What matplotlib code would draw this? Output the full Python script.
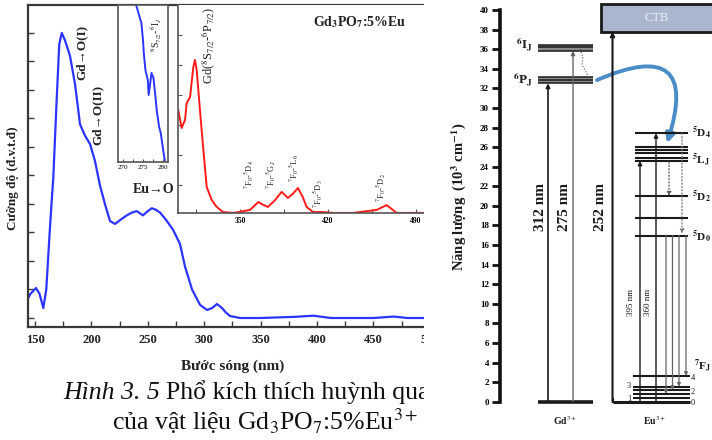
import matplotlib
matplotlib.use('Agg')
import matplotlib.pyplot as plt
from matplotlib.patches import Rectangle, FancyArrowPatch
import numpy as np

plt.rcParams['font.family'] = ['Liberation Serif', 'DejaVu Serif']
plt.rcParams['mathtext.fontset'] = 'stix'

# ---------------- data ----------------
# main excitation spectrum (blue)
blue_nm = [144, 146, 150.9, 154, 157.4, 160, 163, 164.8, 166.2, 169.2, 171.5, 173.7, 176.5,
           181, 185.5, 189.9, 194.3, 198.8, 203.2, 207.6, 212, 216.5, 220.9, 226, 231.3,
           236, 240.2, 245.7, 250, 253.5, 257, 260.8, 266, 272.3, 278.5, 283, 289.2,
           296.3, 302.5, 307, 311.3, 315.8, 319, 322.9, 331.7, 350, 380, 397, 412,
           450, 468, 480, 509]
blue_int = [0.07, 0.085, 0.105, 0.085, 0.035, 0.10, 0.30, 0.41, 0.49, 0.765, 0.96, 1.0, 0.975,
            0.92, 0.82, 0.68, 0.64, 0.61, 0.55, 0.465, 0.40, 0.34, 0.33, 0.345, 0.36,
            0.37, 0.375, 0.36, 0.375, 0.385, 0.38, 0.37, 0.345, 0.31, 0.26, 0.18, 0.10,
            0.046, 0.028, 0.035, 0.049, 0.035, 0.02, 0.007, 0.0, 0.0, 0.004, 0.008, 0.0,
            0.0, 0.005, 0.0, 0.0]
main_xticks = [150, 200, 250, 300, 350, 400, 450, 500]

# zoomed inset (blue, 270-280 nm)
inset_nm = [273.0, 273.3, 274.6, 275.0, 275.2, 275.6, 276.2, 276.4, 276.8, 277.1, 277.6,
            278.0, 278.4, 279.0, 279.4, 280.0, 280.4]
inset_int = [1.05, 1.0, 0.885, 0.777, 0.694, 0.586, 0.522, 0.427, 0.503, 0.567, 0.535,
             0.439, 0.331, 0.223, 0.185, 0.076, 0.013]
inset_xticks = [270, 275, 280]

# red inset (300-500 nm)
red_nm = [300.8, 303.5, 306.2, 307.5, 310.2, 312.8, 314.1, 315.5, 318.1, 320.8, 323.5,
          327.5, 331.4, 336.5, 345, 358, 364.6, 368, 372.3, 378, 383.2, 388.2, 392,
          396.2, 400, 403.1, 408.2, 416.1, 424.1, 440, 458.9, 466.9, 474.9, 493.4, 510]
red_int = [3.5, 2.9, 3.17, 3.73, 3.93, 4.93, 5.17, 4.83, 3.5, 2.17, 0.93,
           0.5, 0.27, 0.1, 0.07, 0.17, 0.43, 0.35, 0.27, 0.5, 0.77, 0.57, 0.7,
           0.9, 0.6, 0.27, 0.1, 0.1, 0.07, 0.07, 0.17, 0.33, 0.07, 0.07, 0.07]
red_xticks = [350, 420, 490]

# energy level diagram (10^3 cm^-1)
energy_ticks = list(range(0, 42, 2))
gd_6P = [32.52, 32.86, 33.2]
gd_6I = [35.85, 36.2, 36.43]
eu_5D4 = 27.42
eu_5L = [24.6, 24.86, 25.37, 25.7, 26.0]
eu_5D2 = 21.0
eu_5D1 = 18.8
eu_5D0 = 16.96
eu_7F = [0, 0.35, 0.79, 1.2, 1.53, 2.63]
ctb_band = (37.8, 40.6)
emission_ends = [0.79, 1.2, 1.53, 2.63]

W, H = 712, 440
fig = plt.figure(figsize=(W / 100, H / 100), dpi=100)


def rect(x0, y0, x1, y1):
    return [x0 / W, 1 - y1 / H, (x1 - x0) / W, (y1 - y0) / H]


def ftext(x, y, s, **kw):
    return fig.text(x / W, 1 - y / H, s, **kw)


SPC = '#3a3a3a'

# ---------------- main spectrum ----------------
ax = fig.add_axes(rect(28, 5, 440, 327))
ax.plot(blue_nm, blue_int, color='#2b35ff', lw=1.6)
ax.set_xlim(143.8, 509)
ax.set_ylim(-0.0316, 1.098)
ax.set_xticks(main_xticks)
ax.set_xticks(np.arange(150, 510, 25), minor=True)
ax.set_yticks(np.arange(0, 1.01, 0.1))
ax.set_yticklabels([])
ax.tick_params(which='both', direction='in', length=4, width=1, color=SPC)
ax.tick_params(axis='x', labelsize=9, pad=5)
for lab in ax.get_xticklabels():
    lab.set_fontweight('bold')
    lab.set_color('#222222')
for s in ax.spines.values():
    s.set_color(SPC)
    s.set_linewidth(1.6)
ax.spines['right'].set_visible(False)

ftext(82, 52, 'Gd→O(I)', rotation=90, ha='center', va='center', fontsize=9.5,
      fontweight='bold', color='#222222')
ftext(98, 115, 'Gd→O(II)', rotation=90, ha='center', va='center', fontsize=9.5,
      fontweight='bold', color='#222222')
ftext(154, 189, 'Eu→O', ha='center', va='center', fontsize=10, fontweight='bold',
      color='#222222')

# ---------------- red inset ----------------
axr = fig.add_axes(rect(178, 5, 440, 213))
axr.plot(red_nm, red_int, color='#ff1a1a', lw=1.4)
axr.set_xlim(300.6, 509.4)
axr.set_ylim(0.067, 7.0)
axr.set_xticks(red_xticks)
axr.set_xticks(np.arange(315, 510, 35), minor=True)
axr.set_yticks(range(1, 7))
axr.set_yticklabels([])
axr.tick_params(which='both', direction='in', length=3, width=0.8, color='#555555')
axr.tick_params(axis='x', labelsize=5.5, pad=3)
for lab in axr.get_xticklabels():
    lab.set_fontweight('bold')
for k in ('top', 'right'):
    axr.spines[k].set_visible(False)
for k in ('left', 'bottom'):
    axr.spines[k].set_color('#555555')
    axr.spines[k].set_linewidth(1.2)

ftext(360, 22, r'Gd$_\mathbf{3}$PO$_\mathbf{7}$:5%Eu', ha='center', va='center',
      fontsize=10, fontweight='bold', color='#222222')
ftext(209, 45, r'Gd($^8$S$_{7/2}$-$^6$P$_{7/2}$)', rotation=90, ha='center',
      va='center', fontsize=9, color='#222222')
small = [(249, 175, r'$^7$F$_0$-$^5$D$_4$'), (271, 175, r'$^7$F$_0$-$^5$G$_J$'),
         (294, 168, r'$^7$F$_0$-$^5$L$_6$'), (318, 194, r'$^7$F$_0$-$^5$D$_3$'),
         (381, 188, r'$^7$F$_0$-$^5$D$_2$')]
for x, y, s in small:
    ftext(x, y, s, rotation=90, ha='center', va='center', fontsize=6, color='#222222')

# ---------------- blue inset ----------------
axb = fig.add_axes(rect(118, 5, 168, 162))
axb.plot(inset_nm, inset_int, color='#2b35ff', lw=1.4)
axb.set_xlim(268.8, 281.2)
axb.set_ylim(0, 1)
axb.set_xticks(inset_xticks)
axb.set_xticks([272.5, 277.5], minor=True)
axb.set_yticks([])
axb.tick_params(which='both', direction='in', length=2.5, width=0.8, color='#555555')
axb.tick_params(axis='x', labelsize=5, pad=2)
for s in axb.spines.values():
    s.set_color('#555555')
    s.set_linewidth(1.2)
ftext(156, 35, r'$^8$S$_{7/2}$-$^6$I$_J$', rotation=90, ha='center', va='center',
      fontsize=7, color='#222222')

# y label and x label
ftext(13, 178, 'Cường độ (đ.v.t.đ)', rotation=90, ha='center', va='center',
      fontsize=9.5, fontweight='bold', color='#222222')
ftext(233, 366, 'Bước sóng (nm)', ha='center', va='center', fontsize=11,
      fontweight='bold', color='#222222')

# caption
fig.canvas.draw()
r = fig.canvas.get_renderer()
t1 = ftext(63, 399, 'Hình 3. 5 ', ha='left', va='baseline', fontsize=18.5, style='italic',
           color='#111111')
bb = t1.get_window_extent(renderer=r)
ftext(63 + bb.width, 399, 'Phổ kích thích huỳnh quang', ha='left', va='baseline',
      fontsize=18.5, color='#111111')
ftext(112, 430, r'của vật liệu Gd$_3$PO$_7$:5%Eu$^{3+}$', ha='left', va='baseline',
      fontsize=18.5, color='#111111')

# crop band between panels
fig.patches.append(Rectangle((424 / W, 0), (446 - 424) / W, 1, transform=fig.transFigure,
                             facecolor='white', edgecolor='none', zorder=100))
fig.patches.append(Rectangle((424 / W, 0), (474 - 424) / W, 1 - 372 / H,
                             transform=fig.transFigure, facecolor='white',
                             edgecolor='none', zorder=100))

# ---------------- energy level diagram ----------------
ax2 = fig.add_axes(rect(500, 0, 712, 440))
ax2.set_xlim(500, 712)
ax2.set_ylim(-3.91, 41.03)
for k in ('top', 'right', 'bottom'):
    ax2.spines[k].set_visible(False)
ax2.spines['left'].set_bounds(0, 40)
ax2.spines['left'].set_linewidth(2.6)
ax2.spines['left'].set_color('#111111')
ax2.set_xticks([])
ax2.set_yticks(energy_ticks)
ax2.tick_params(axis='y', direction='out', length=6, width=2, color='#111111',
                labelsize=6.5, pad=2)
for lab in ax2.get_yticklabels():
    lab.set_fontweight('bold')
ax2.patch.set_alpha(0)

DK = '#1a1a1a'
# Gd levels
ax2.hlines(0, 538, 593, color=DK, lw=2.6)
for band in (gd_6P, gd_6I):
    ax2.fill_between([538, 593], band[0], band[-1], color='#8a8a8a', lw=0)
    ax2.hlines(band, 538, 593, color=DK, lw=1.1)


def arrow(x, y0, y1, color=DK, lw=1.0, ls='-', ms=6):
    ax2.annotate('', xy=(x, y1), xytext=(x, y0),
                 arrowprops=dict(arrowstyle='-|>', lw=lw, color=color, ls=ls,
                                 mutation_scale=ms, shrinkA=0, shrinkB=0))


arrow(548, 0, gd_6P[0], lw=1.2)
arrow(573, 0, gd_6I[0], color='#666666', lw=1.0)
arrow(612.5, 0, ctb_band[0], lw=1.5)
ax2.plot([580, 583, 582, 586, 589], [36.0, 35.2, 34.4, 33.7, 33.05], ls=':', color='#555555',
         lw=0.8)

# CTB box
ax2.add_patch(Rectangle((601, ctb_band[0]), 140, ctb_band[1] - ctb_band[0],
                        facecolor='#a9b6cd', edgecolor=DK, lw=2))
ax2.text(657, (ctb_band[0] + ctb_band[1]) / 2, 'CTB', ha='center', va='center',
         fontsize=9, color='#eef1f7')

# Eu levels
ax2.hlines([eu_5D4] + eu_5L + [eu_5D2, eu_5D1, eu_5D0], 635, 688, color=DK, lw=1.5)
ax2.hlines(eu_7F[1:], 633, 690, color=DK, lw=1.5)
ax2.hlines(eu_7F[0], 612.5, 690, color=DK, lw=2.2)
ax2.plot([612.5, 612.5], [0, 0.3], color=DK, lw=1.5)

arrow(640, 0, eu_5L[0], lw=1.0)
arrow(656, 0, eu_5D4, lw=1.0)
arrow(669, eu_5L[0] - 0.1, eu_5D2, color='#555555', lw=0.9, ls=':')
arrow(682, eu_5D4, eu_5D0 + 0.2, color='#777777', lw=0.9, ls=':')
for x, e in zip([666, 672.5, 679, 686], emission_ends):
    arrow(x, eu_5D0, e, color='#666666', lw=0.9, ms=5)

# blue transfer arrow
ax2.add_patch(FancyArrowPatch((597, 32.85), (667, 26.4), connectionstyle='arc3,rad=-1.1',
                              arrowstyle='-|>', mutation_scale=13, color='#4a8cc8',
                              lw=2.8, shrinkA=0, shrinkB=0))

# level labels
ftext(533, 45, r'$^\mathbf{6}$I$_\mathbf{J}$', ha='right', va='center', fontsize=9.5,
      fontweight='bold', color=DK)
ftext(533, 80, r'$^\mathbf{6}$P$_\mathbf{J}$', ha='right', va='center', fontsize=9.5,
      fontweight='bold', color=DK)
for x, y, s in [(692, 133, r'$^\mathbf{5}$D$_\mathbf{4}$'), (692, 160, r'$^\mathbf{5}$L$_\mathbf{J}$'),
                (692, 197, r'$^\mathbf{5}$D$_\mathbf{2}$'), (692, 237, r'$^\mathbf{5}$D$_\mathbf{0}$'),
                (694, 366, r'$^\mathbf{7}$F$_\mathbf{J}$')]:
    ftext(x, y, s, ha='left', va='center', fontsize=8.2, fontweight='bold', color=DK)
for x, y, s, ha in [(631, 386, '3', 'right'), (631, 399, '1', 'right'),
                    (691, 378, '4', 'left'), (691, 392, '2', 'left'), (691, 403, '0', 'left')]:
    ftext(x, y, s, ha=ha, va='center', fontsize=6, color=DK)

for x, s in [(540, '312 nm'), (564, '275 nm'), (601, '252 nm')]:
    ftext(x, 207, s, rotation=90, ha='center', va='center', fontsize=11,
          fontweight='bold', color=DK)
for x, s in [(631, '395 nm'), (647.5, '360 nm')]:
    ftext(x, 302, s, rotation=90, ha='center', va='center', fontsize=6.5, color=DK)

ftext(565, 421, r'Gd$^{3+}$', ha='center', va='center', fontsize=7, fontweight='bold',
      color=DK)
ftext(654, 421, r'Eu$^{3+}$', ha='center', va='center', fontsize=7, fontweight='bold',
      color=DK)
ftext(459, 197, r'Năng lượng  (10$^\mathbf{3}$ cm$^\mathbf{-1}$)', rotation=90,
      ha='center', va='center', fontsize=10.5, fontweight='bold', color=DK)

fig.savefig('out.png', dpi=100)
